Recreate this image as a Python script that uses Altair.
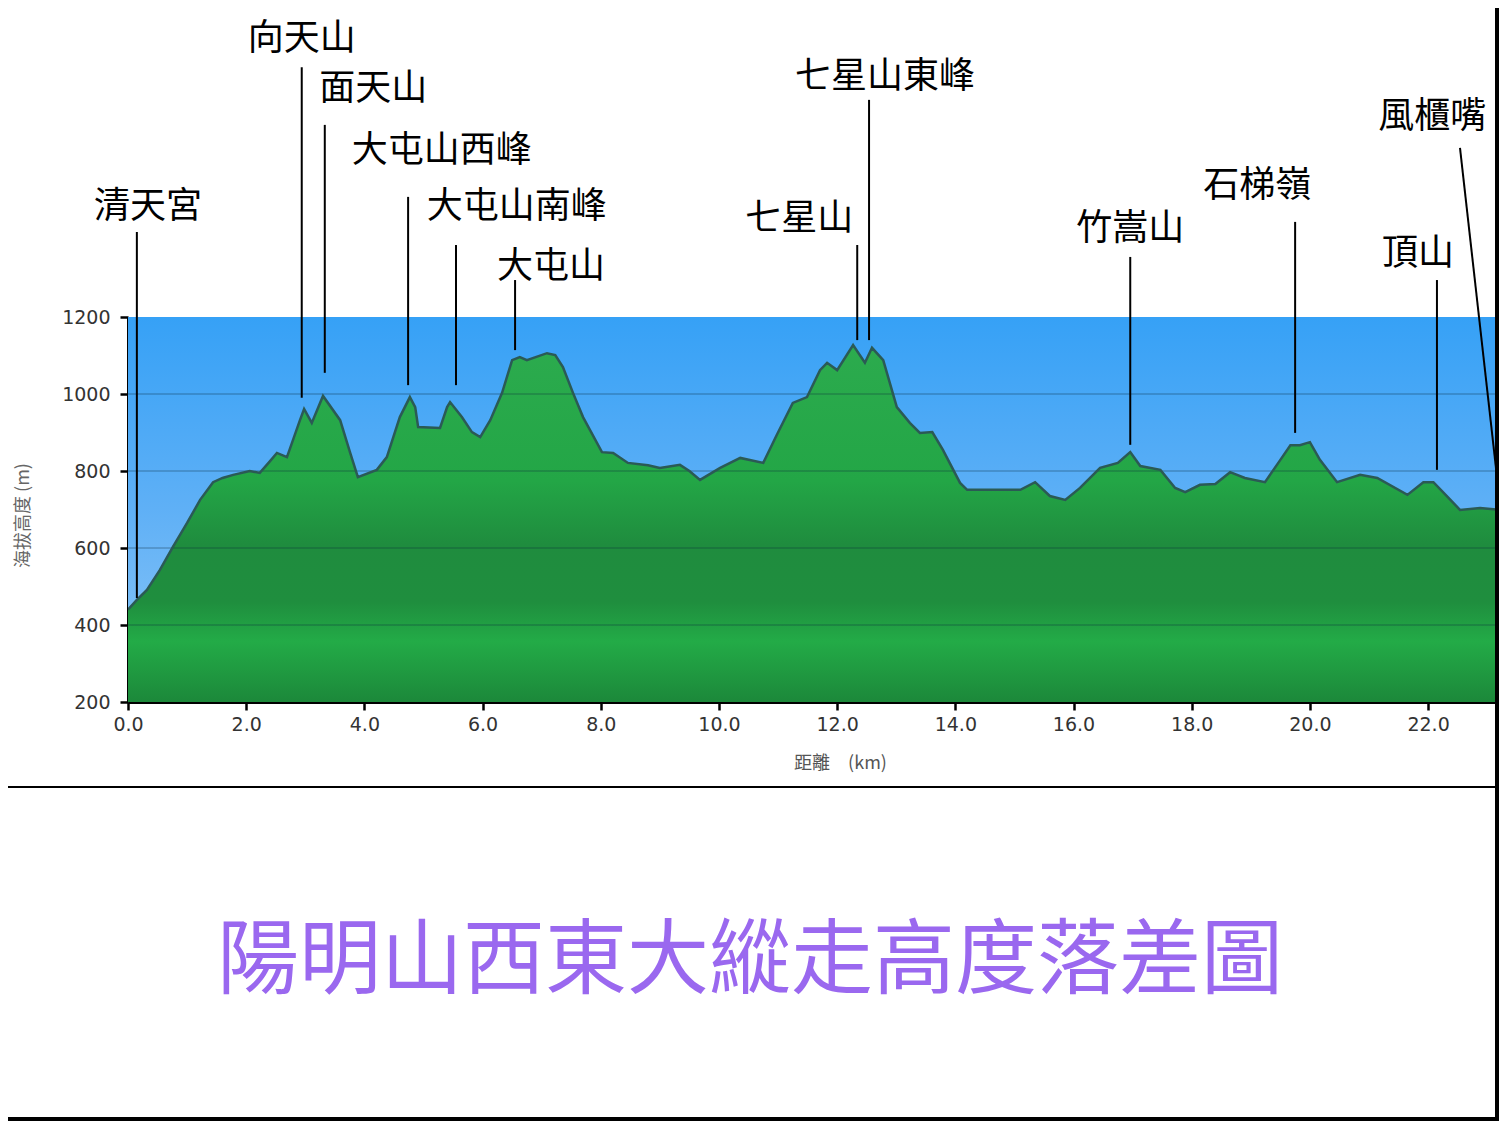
import altair as alt
import pandas as pd

# ---- profile data (km, elevation m) ----
dist_km = [0.0, 0.15, 0.32, 0.54, 0.76, 1.0, 1.22, 1.44, 1.6, 1.78, 2.06, 2.23, 2.4, 2.52, 2.69, 2.91,
           2.98, 3.11, 3.30, 3.59, 3.76, 3.89, 4.21, 4.38, 4.60, 4.77, 4.86, 4.91, 5.28, 5.40, 5.45,
           5.65, 5.82, 5.96, 6.13, 6.33, 6.50, 6.63, 6.75, 7.09, 7.23, 7.36, 7.53, 7.70, 8.02, 8.21,
           8.46, 8.8, 9.0, 9.34, 9.5, 9.68, 10.02, 10.36, 10.75, 10.98, 11.25, 11.49, 11.71, 11.83,
           12.0, 12.27, 12.47, 12.59, 12.78, 13.01, 13.23, 13.40, 13.61, 13.79, 14.08, 14.2, 14.59,
           15.1, 15.35, 15.6, 15.86, 16.11, 16.45, 16.75, 16.96, 17.13, 17.47, 17.72, 17.89, 18.14,
           18.4, 18.65, 18.9, 19.24, 19.5, 19.67, 19.83, 20.0, 20.17, 20.46, 20.85, 21.14, 21.65,
           21.92, 22.09, 22.33, 22.54, 22.88, 23.22]
elev_m = [440, 465, 491, 543, 603, 665, 725, 771, 782, 790, 800, 795, 825, 847, 836, 932,
          961, 925, 995, 932, 847, 784, 803, 836, 940, 992, 966, 914, 912, 966, 979,
          940, 901, 888, 932, 1003, 1088, 1096, 1088, 1106, 1101, 1070, 1003, 940, 849, 847,
          821, 815, 808, 816, 800, 777, 808, 834, 821, 894, 977, 992, 1062, 1081,
          1062, 1127, 1081, 1120, 1088, 966, 925, 899, 901, 855, 769, 751, 751,
          751, 771, 735, 725, 756, 808, 821, 849, 813, 803, 756, 745, 764,
          766, 797, 782, 771, 829, 867, 867, 875, 829, 771, 790, 782, 738,
          771, 771, 733, 699, 704, 699]

# ---- peak labels ----
peak_names = ["清天宮", "向天山", "面天山", "大屯山西峰", "大屯山南峰", "大屯山",
              "七星山", "七星山東峰", "竹嵩山", "石梯嶺", "頂山", "風櫃嘴"]
label_km = [0.34, 2.94, 4.15, 5.31, 6.58, 7.16, 11.36, 12.81, 16.96, 19.11, 21.83, 22.07]
label_elev = [1486, 1922, 1792, 1631, 1486, 1330, 1455, 1823, 1429, 1540, 1364, 1719]
line_km_top = [0.15, 2.94, 3.33, 4.74, 5.55, 6.55, 12.34, 12.54, 16.96, 19.75, 22.15, 22.54]
line_elev_top = [1421, 1849, 1699, 1512, 1387, 1296, 1387, 1764, 1356, 1447, 1296, 1639]
line_km_bot = [0.15, 2.94, 3.33, 4.74, 5.55, 6.55, 12.34, 12.54, 16.96, 19.75, 22.15, 23.2]
line_elev_bot = [470, 990, 1055, 1023, 1023, 1114, 1140, 1140, 868, 899, 803, 738]

y_ticks = [200, 400, 600, 800, 1000, 1200]
x_ticks = [0, 2, 4, 6, 8, 10, 12, 14, 16, 18, 20, 22]
grid_vals = [400, 600, 800, 1000]
main_title = "陽明山西東大縱走高度落差圖"

W, H = 1371, 385
XMAX = 23.2
CJK = "Noto Sans CJK TC"

profile = pd.DataFrame({"km": dist_km, "elev": elev_m})
labels = pd.DataFrame({"name": peak_names, "lk": label_km, "le": label_elev,
                       "tk": line_km_top, "te": line_elev_top,
                       "bk": line_km_bot, "be": line_elev_bot})
grid = pd.DataFrame({"g": grid_vals})

xs = alt.Scale(domain=[0, XMAX], nice=False, zero=False)
ys = alt.Scale(domain=[200, 1200], nice=False, zero=False)

sky = alt.Chart(alt.Data(values=[{}])).mark_rect(
    color=alt.Gradient(gradient="linear", x1=0, x2=0, y1=0, y2=1,
                       stops=[alt.GradientStop(color="#36a1f6", offset=0),
                              alt.GradientStop(color="#5fb0f6", offset=0.5),
                              alt.GradientStop(color="#90c8f7", offset=1)])
).encode(x=alt.datum(0, scale=xs), x2=alt.datum(XMAX),
         y=alt.datum(1200, scale=ys), y2=alt.datum(200))

area = alt.Chart(profile).mark_area(
    clip=True,
    color=alt.Gradient(gradient="linear", x1=0, x2=0, y1=0, y2=1,
                       stops=[alt.GradientStop(color="#2cab4e", offset=0),
                              alt.GradientStop(color="#23a646", offset=0.38),
                              alt.GradientStop(color="#1f8c3e", offset=0.56),
                              alt.GradientStop(color="#1f8e3e", offset=0.72),
                              alt.GradientStop(color="#23ab47", offset=0.83),
                              alt.GradientStop(color="#1c883a", offset=1)])
).encode(
    x=alt.X("km:Q", scale=xs,
            axis=alt.Axis(values=x_ticks, format=".1f", title="距離　(km)",
                          titleX=712, titleY=61, titleAlign="center", titleBaseline="middle",
                          titleFont=CJK, titleFontSize=18, titleFontWeight="normal",
                          titleColor="#555555", labelFont="DejaVu Sans", labelFontSize=19,
                          labelColor="#333333", labelPadding=5, labelFlush=False,
                          tickSize=8, tickWidth=2.5,
                          tickColor="black", domainColor="black", domainWidth=3, grid=False)),
    y=alt.Y("elev:Q", scale=ys,
            axis=alt.Axis(values=y_ticks, format="d", title="海拔高度 (m)",
                          titleX=-105, titleY=198, titleAlign="center", titleBaseline="middle",
                          titleAngle=270,
                          titleFont=CJK, titleFontSize=18, titleFontWeight="normal",
                          titleColor="#666666", labelFont="DejaVu Sans", labelFontSize=19,
                          labelColor="#333333", labelPadding=10, labelFlush=False,
                          tickSize=8, tickWidth=2.5,
                          tickColor="black", domainColor="black", domainWidth=3, grid=False)),
    y2=alt.datum(200),
)

outline = alt.Chart(profile).mark_line(clip=True, color="#2b5a55", strokeWidth=2.5).encode(
    x=alt.X("km:Q", scale=xs), y=alt.Y("elev:Q", scale=ys))

gridlines = alt.Chart(grid).mark_rule(color="#0a2a3a", opacity=0.22, strokeWidth=2).encode(
    y=alt.Y("g:Q", scale=ys))

leaders = alt.Chart(labels).mark_rule(color="black", strokeWidth=2).encode(
    x=alt.X("tk:Q", scale=xs), x2="bk:Q",
    y=alt.Y("te:Q", scale=ys), y2="be:Q")

names = alt.Chart(labels).mark_text(
    font=CJK, fontSize=36, color="black", align="center", baseline="middle"
).encode(x=alt.X("lk:Q", scale=xs), y=alt.Y("le:Q", scale=ys), text="name:N")

title_txt = alt.Chart(alt.Data(values=[{"t": main_title}])).mark_text(
    font=CJK, fontSize=82, color="#9a68ef", align="center", baseline="middle"
).encode(x=alt.value(622), y=alt.value(645), text="t:N")

frame = alt.Chart(alt.Data(values=[
    {"x": -120, "x2": 1371, "y": 470, "y2": 470, "w": 2},
    {"x": 1369, "x2": 1369, "y": -309, "y2": 804, "w": 4},
    {"x": -120, "x2": 1371, "y": 802, "y2": 802, "w": 4},
])).mark_rule(color="black").encode(
    x=alt.X("x:Q", scale=None), x2="x2:Q",
    y=alt.Y("y:Q", scale=None), y2="y2:Q",
    strokeWidth=alt.StrokeWidth("w:Q", scale=None, legend=None))

chart = alt.layer(sky, area, gridlines, outline, leaders, names, title_txt, frame).properties(
    width=W, height=H,
    autosize=alt.AutoSizeParams(type="none"),
    padding={"left": 120, "top": 309, "right": 0, "bottom": 419},
    background="white",
).configure_view(stroke=None)

chart.save("out.html", embed_options={"renderer": "svg", "actions": False})
